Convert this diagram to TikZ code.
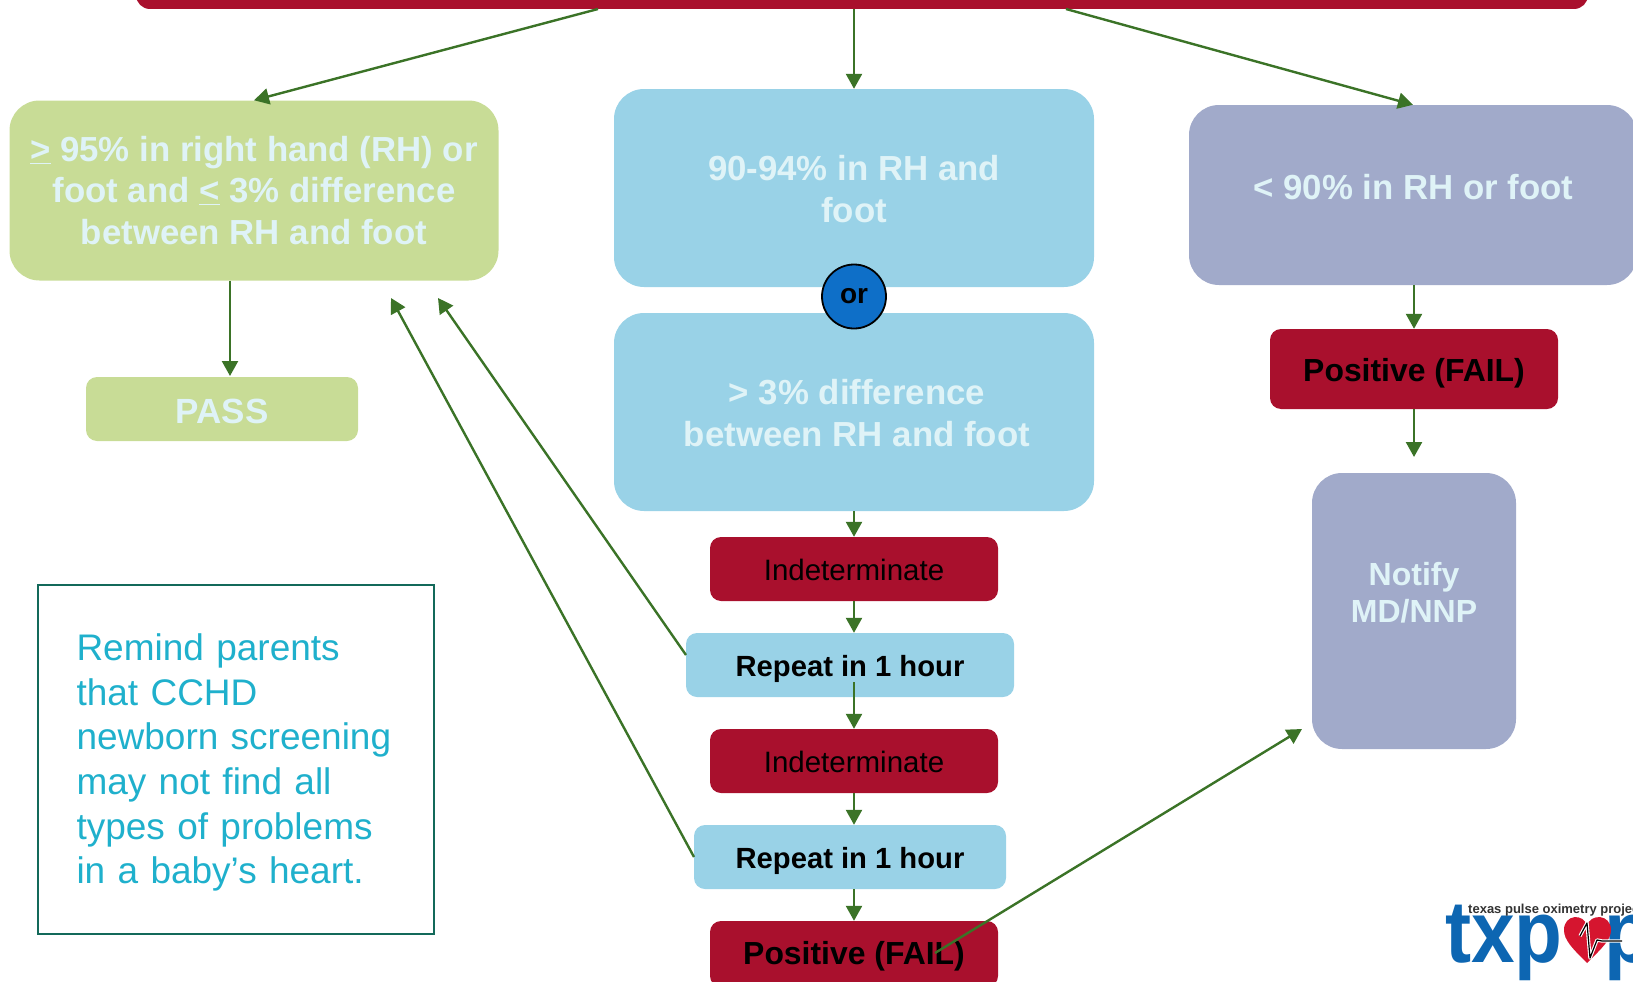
\documentclass[tikz,border=0pt]{standalone}
\usepackage{fontspec}
\setmainfont{Liberation Sans}
\newfontfamily\notefont[WordSpace=0.8]{Liberation Sans}
\usetikzlibrary{arrows.meta}
\definecolor{crimson}{HTML}{A9102D}
\definecolor{leaf}{HTML}{C8DC96}
\definecolor{sky}{HTML}{99D2E7}
\definecolor{slate}{HTML}{A1AACA}
\definecolor{pale}{HTML}{DFF3F7}
\definecolor{conn}{HTML}{3B7327}
\definecolor{notec}{HTML}{1FB0CC}
\definecolor{noteb}{HTML}{13695A}
\definecolor{orblue}{HTML}{0E6FC8}
\definecolor{logob}{HTML}{0D66B2}
\definecolor{logor}{HTML}{D5152F}
\newcommand{\lowered}[2]{\raisebox{-#1pt}[\height][\depth]{#2}}
\tikzset{
  x=1pt,y=-1pt,
  boxbase/.style={rectangle,inner sep=0pt,align=center},
  bigbox/.style={boxbase,rounded corners=30pt,text=pale,font=\fontsize{34.8}{41.5}\selectfont\bfseries},
  smallbox/.style={boxbase,rounded corners=11pt,text=black},
  regtxt/.style={font=\fontsize{29.5}{35}\selectfont},
  boldtxt/.style={font=\fontsize{29.2}{35}\selectfont\bfseries},
  failtxt/.style={font=\fontsize{31.9}{36}\selectfont\bfseries},
  conntip/.style={draw=conn,line width=2.4pt,-{Triangle[length=15pt,width=16pt]}}
}
\begin{document}
\begin{tikzpicture}
\useasboundingbox (0,0) rectangle (1633,982);
% top bar
\node[boxbase,fill=crimson,rounded corners=14pt,minimum width=1452pt,minimum height=80pt] (top) at (862,-31) {};
% left column
\node[bigbox,fill=leaf,minimum width=489pt,minimum height=180pt] (green) at (254,190.5)
  {\underline{>} 95\% in right hand (RH) or\\foot and \underline{<} 3\% difference\\between RH and foot};
\node[smallbox,fill=leaf,minimum width=272pt,minimum height=64pt,text=pale,font=\fontsize{35}{40}\selectfont\bfseries] (pass) at (222,409) {\lowered{2}{PASS}};
% middle column
\node[boxbase,fill=sky,rounded corners=30pt,text=pale,font=\fontsize{34.8}{41.5}\selectfont\bfseries,minimum width=480pt,minimum height=198pt] (mida) at (854,188) {\lowered{1}{90-94\% in RH and}\\\lowered{1}{foot}};
\node[bigbox,fill=sky,minimum width=480pt,minimum height=198pt] (midb) at (854,412) {\lowered{1}{\hspace*{6pt}> 3\% difference}\\\lowered{1}{\hspace*{6pt}between RH and foot}};
\node[circle,draw=black,line width=1.8pt,fill=orblue,minimum size=64pt,inner sep=0pt,text=black,font=\fontsize{28}{32}\selectfont\bfseries] (orc) at (854,296.5) {or};
\node[smallbox,regtxt,fill=crimson,minimum width=288pt,minimum height=64pt] (ind1) at (854,569) {\lowered{1}{Indeterminate}};
\node[smallbox,boldtxt,fill=sky,minimum width=328pt,minimum height=64pt] (rep1) at (850,665) {\lowered{4}{Repeat in 1 hour}};
\node[smallbox,regtxt,fill=crimson,minimum width=288pt,minimum height=64pt] (ind2) at (854,761) {\lowered{1}{Indeterminate}};
\node[smallbox,boldtxt,fill=sky,minimum width=312pt,minimum height=64pt] (rep2) at (850,857) {\lowered{4}{Repeat in 1 hour}};
\node[smallbox,failtxt,fill=crimson,minimum width=288pt,minimum height=66pt] (pos1) at (854,954) {\lowered{2}{Positive (FAIL)}};
% right column
\node[bigbox,fill=slate,minimum width=448pt,minimum height=180pt] (purp) at (1413,195) {};
\node[text=pale,font=\fontsize{34.8}{41.5}\selectfont\bfseries,inner sep=0pt] (purptxt) at (1413.5,187) {< 90\% in RH or foot};
\node[smallbox,failtxt,fill=crimson,minimum width=288pt,minimum height=80pt] (pos2) at (1414,369) {\lowered{4}{Positive (FAIL)}};
\node[bigbox,fill=slate,minimum width=204pt,minimum height=276pt] (notify) at (1414,611) {};
\node[text=pale,align=center,inner sep=0pt,font=\fontsize{32}{37.5}\selectfont\bfseries] (notifytxt) at (1414,592.5) {Notify\\MD/NNP};
% note box
\node[rectangle,draw=noteb,line width=1.6pt,minimum width=396pt,minimum height=349pt,inner sep=0pt,text width=319pt,align=left,text=notec,font=\notefont\fontsize{37}{44.7}\selectfont] (note) at (236,759.5)
  {\lowered{3}{Remind parents}\\\lowered{3}{that CCHD}\\\lowered{3}{newborn screening}\\\lowered{3}{may not find all}\\\lowered{3}{types of problems}\\\lowered{3}{in a baby’s heart.}};
% free connector ends
\coordinate (tl) at (598,9);
\coordinate (tr) at (1066,9);
\coordinate (passfrom) at (230,280.5);
\coordinate (passto) at (230,376);
\coordinate (ga) at (438,298);
\coordinate (gb) at (391,298);
\coordinate (ra) at (686,655);
\coordinate (rb) at (694,857);
\coordinate (failfrom) at (935,953);
\coordinate (failto) at (1302,729);
\coordinate (r1mid) at (854,682);
% connectors
\path[conntip] (top.south -| mida.north) -- (mida.north);
\path[conntip] (tl) -- (green.north);
\path[conntip] (tr) -- (purp.north);
\path[conntip] (passfrom) -- (passto);
\path[conntip] (midb.south) -- (ind1.north);
\path[conntip] (ind1.south) -- (ind1.south |- rep1.north);
\path[conntip] (r1mid) -- (ind2.north);
\path[conntip] (ind2.south) -- (ind2.south |- rep2.north);
\path[conntip] (ind2.south |- rep2.south) -- (pos1.north);
\path[conntip] (ra) -- (ga);
\path[conntip] (rb) -- (gb);
\path[conntip] (failfrom) -- (failto);
\path[conntip] (purp.south -| pos2.north) -- (pos2.north);
\path[conntip] (pos2.south) -- (notify.north |- 0,457);
% logo
\node[anchor=base west,inner sep=0pt,text=logob,font=\fontsize{88}{88}\selectfont\bfseries] (logotxt) at (1445,962) {\scalebox{0.89}[1]{txp}};
\node[anchor=base west,inner sep=0pt,text=logob,font=\fontsize{88}{88}\selectfont\bfseries] (logop) at (1604,962) {\scalebox{0.89}[1]{p}};
\fill[logor] (1587,963) .. controls (1572,948) and (1564,940) .. (1564,930)
  .. controls (1564,914) and (1584,913) .. (1587,926)
  .. controls (1590,913) and (1611,914) .. (1611,930)
  .. controls (1611,940) and (1602,948) .. (1587,963) -- cycle;
\draw[white,line width=3.4pt,line join=round] (1580,936) -- (1587,923) -- (1590,958) -- (1597,940) -- (1602,941) -- (1622,941);
\draw[black,line width=1.2pt,line join=round] (1580,936) -- (1587,923) -- (1590,958) -- (1597,940) -- (1602,941) -- (1622,941);
\node[anchor=base west,inner sep=0pt,text=black!80,font=\fontsize{13}{14}\selectfont\bfseries] (logosub) at (1468,913) {texas pulse oximetry project};
\end{tikzpicture}
\end{document}
